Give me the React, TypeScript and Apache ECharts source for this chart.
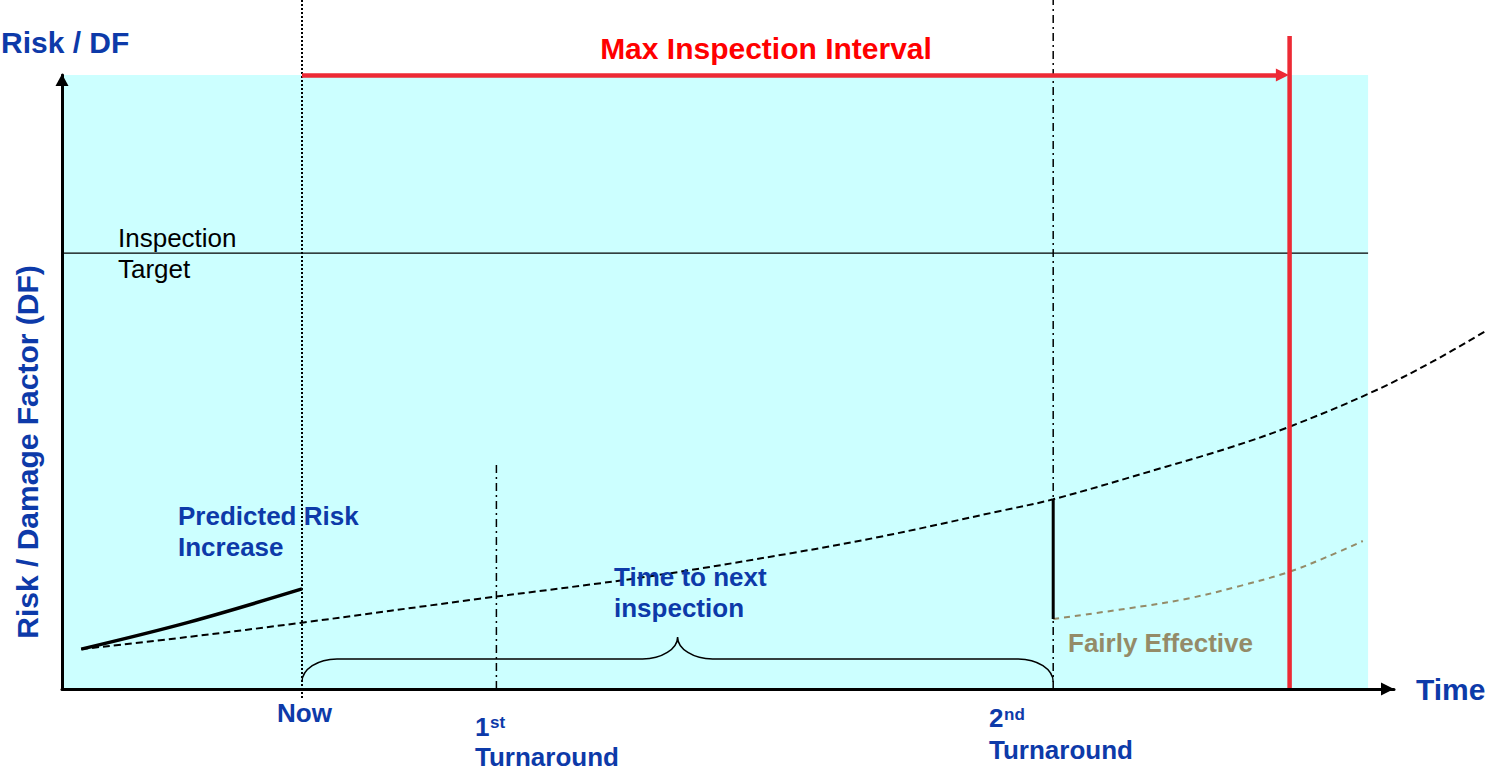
import React, { useEffect, useRef } from 'react';
import * as echarts from 'echarts';

const FONT = '"Liberation Sans", Arial, Helvetica, sans-serif';
const BLUE = '#0d3aa9';
const RED = '#ED2A35';
const KHAKI = '#948B68';

// ---- data (time in years relative to "Now", risk / DF on a 0–100 scale) ----
const eventNames = ['Now', '1st Turnaround', '2nd Turnaround', 'Max Inspection Interval'];
const eventTimes = [0, 8.1, 31.3, 41.15];

// past, observed risk increase (solid)
const pastTimes = [-9.2, -4.7, 0];
const pastRisk = [6.5, 10.9, 16.3];

// predicted risk without inspection (black dashed)
const riskTimes = [-9.2, -4.7, 0, 7.4, 14.4, 20.5, 24.1, 29.1, 31.3, 36.0, 38.8, 41.2, 44.5, 47.1, 49.4];
const riskValues = [6.5, 8.5, 10.8, 14.7, 18.3, 22.2, 24.8, 29.0, 30.9, 36.2, 39.5, 42.8, 48.2, 53.3, 58.5];

// risk after a "fairly effective" inspection at the 2nd turnaround (khaki dashed)
const effTimes = [31.3, 34.9, 37.0, 39.1, 41.15, 42.7, 44.2];
const effValues = [11.4, 13.4, 14.8, 16.8, 19.1, 21.5, 24.1];

const inspectionTarget = 71;
const windowTimes = [-10, 44.42];
const windowRisk = [0, 100];
const ta1LineTop = 36.5;
const maxLineTop = 106.35;
const markerRange = [-1.8, 112.2];
const braceLevels = [1.14, 4.89, 8.47];

const xRange = [-10, 45.5]; // visible time axis (ends at the arrow)
const plotXRange = [-10, 49.4]; // drawing range for the marks (same scale, runs to the page edge)
const yRange = [0, 100];

const lineBase = {
  type: 'line',
  symbol: 'none',
  silent: true,
  clip: false,
  animation: false,
  xAxisIndex: 1,
  yAxisIndex: 1,
};

const pairs = (xs: number[], ys: number[]) => xs.map((x, i) => [x, ys[i]]);

function txt(text: string, x: number, y: number, font: string, fill: string, align = 'left', extra: any = {}) {
  return {
    type: 'text',
    x,
    y,
    z: 100,
    silent: true,
    style: { text, font, fill, align, verticalAlign: 'middle' },
    ...extra,
  };
}

const hiddenAxis = {
  show: false,
  axisLine: { show: false },
  axisTick: { show: false },
  axisLabel: { show: false },
  splitLine: { show: false },
};

function buildOption() {
  const [now, ta1, ta2, maxT] = eventTimes;
  const b26 = `bold 26px ${FONT}`;
  const pxPerYear = 1332 / (xRange[1] - xRange[0]);
  return {
    animation: false,
    backgroundColor: '#ffffff',
    grid: [
      { left: 62, top: 75, width: 1332, height: 614, containLabel: false, outerBoundsMode: 'none' },
      {
        left: 62,
        top: 75,
        width: pxPerYear * (plotXRange[1] - plotXRange[0]),
        height: 614,
        containLabel: false,
        outerBoundsMode: 'none',
      },
    ],
    xAxis: [
      {
        type: 'value',
        gridIndex: 0,
        min: xRange[0],
        max: xRange[1],
        z: 10,
        name: 'Time',
        nameLocation: 'end',
        nameGap: 22,
        nameTextStyle: { fontSize: 30, fontWeight: 'bold', color: BLUE, fontFamily: FONT },
        axisLine: {
          show: true,
          onZero: false,
          symbol: ['none', 'triangle'],
          symbolSize: [13, 13],
          symbolOffset: [0, -6.5],
          lineStyle: { color: '#000', width: 3 },
        },
        axisTick: { show: false },
        axisLabel: { show: false },
        splitLine: { show: false },
      },
      { type: 'value', gridIndex: 1, min: plotXRange[0], max: plotXRange[1], ...hiddenAxis },
    ],
    yAxis: [
      {
        type: 'value',
        gridIndex: 0,
        min: yRange[0],
        max: yRange[1],
        z: 10,
        axisLine: {
          show: true,
          onZero: false,
          symbol: ['none', 'triangle'],
          symbolSize: [13, 12],
          symbolOffset: [0, -5],
          lineStyle: { color: '#000', width: 3 },
        },
        axisTick: { show: false },
        axisLabel: { show: false },
        splitLine: { show: false },
      },
      { type: 'value', gridIndex: 1, min: yRange[0], max: yRange[1], ...hiddenAxis },
    ],
    series: [
      {
        ...lineBase,
        name: 'planning window',
        z: 0,
        data: [[windowTimes[0], windowRisk[1]], [windowTimes[1], windowRisk[1]]],
        lineStyle: { width: 0, color: '#CCFFFF' },
        areaStyle: { color: '#CCFFFF', opacity: 1, origin: 'start' },
      },
      {
        ...lineBase,
        name: 'Inspection Target',
        z: 2,
        data: [[windowTimes[0], inspectionTarget], [windowTimes[1], inspectionTarget]],
        lineStyle: { color: '#000', width: 1.2 },
      },
      {
        ...lineBase,
        name: eventNames[0],
        z: 3,
        data: [[now, markerRange[1]], [now, markerRange[0]]],
        lineStyle: { color: '#000', width: 2, type: [2, 2] },
      },
      {
        ...lineBase,
        name: eventNames[1],
        z: 3,
        data: [[ta1, 0], [ta1, ta1LineTop]],
        lineStyle: { color: '#000', width: 1.5, type: [8, 4, 2, 4] },
      },
      {
        ...lineBase,
        name: eventNames[2],
        z: 3,
        data: [[ta2, 0], [ta2, markerRange[1]]],
        lineStyle: { color: '#000', width: 1.5, type: [8, 4, 2, 4] },
      },
      {
        ...lineBase,
        name: eventNames[3],
        z: 6,
        data: [[maxT, 0], [maxT, maxLineTop]],
        lineStyle: { color: RED, width: 4.5 },
        markLine: {
          silent: true,
          symbol: ['none', 'triangle'],
          symbolSize: [13, 13],
          label: { show: false },
          lineStyle: { color: RED, width: 4.5, type: 'solid' },
          data: [[{ coord: [now, yRange[1]] }, { coord: [maxT - 0.3, yRange[1]] }]],
        },
      },
      {
        ...lineBase,
        name: 'Predicted risk',
        z: 4,
        smooth: 0.35,
        data: pairs(riskTimes, riskValues),
        lineStyle: { color: '#000', width: 2, type: [7, 4] },
      },
      {
        ...lineBase,
        name: 'Predicted Risk Increase',
        z: 5,
        smooth: 0.35,
        data: pairs(pastTimes, pastRisk),
        lineStyle: { color: '#000', width: 3.5 },
      },
      {
        ...lineBase,
        name: 'Inspection credit',
        z: 5,
        data: [[ta2, riskValues[riskTimes.indexOf(ta2)]], [ta2, effValues[0]]],
        lineStyle: { color: '#000', width: 3 },
      },
      {
        ...lineBase,
        name: 'Fairly Effective',
        z: 4,
        smooth: 0.35,
        data: pairs(effTimes, effValues),
        lineStyle: { color: KHAKI, width: 2, type: [6, 5] },
      },
      {
        type: 'custom',
        name: 'Time to next inspection',
        coordinateSystem: 'cartesian2d',
        xAxisIndex: 1,
        yAxisIndex: 1,
        silent: true,
        clip: false,
        z: 4,
        encode: { x: [0, 1] },
        data: [[now, ta2]],
        renderItem: (params: any, api: any) => {
          const [lo, bar, tip] = braceLevels;
          const p0 = api.coord([api.value(0), lo]);
          const p1 = api.coord([api.value(1), lo]);
          const yh = api.coord([api.value(0), bar])[1];
          const yt = api.coord([api.value(0), tip])[1];
          const x0 = p0[0];
          const x1 = p1[0];
          const yb = p0[1];
          const xm = (x0 + x1) / 2;
          const rx = 35;
          const d =
            `M${x0} ${yb} C${x0} ${yb - 12.7} ${x0 + rx - 19.25} ${yh} ${x0 + rx} ${yh} ` +
            `L${xm - rx} ${yh} C${xm - 15.75} ${yh} ${xm} ${yt + 12} ${xm} ${yt} ` +
            `C${xm} ${yt + 12} ${xm + 15.75} ${yh} ${xm + rx} ${yh} ` +
            `L${x1 - rx} ${yh} C${x1 - 15.75} ${yh} ${x1} ${yb - 12.7} ${x1} ${yb}`;
          return {
            type: 'path',
            shape: { pathData: d },
            style: { fill: 'none', stroke: '#000', lineWidth: 1.5 },
          };
        },
      },
    ],
    graphic: [
      txt('Risk / DF', 1, 42.5, `bold 30px ${FONT}`, BLUE),
      txt('Max Inspection Interval', 766, 48, `bold 30px ${FONT}`, '#FF0000', 'center'),
      txt('Risk / Damage Factor (DF)', 27.5, 452, `bold 30px ${FONT}`, BLUE, 'center', { rotation: Math.PI / 2 }),
      txt('Inspection', 118, 238, `26px ${FONT}`, '#000'),
      txt('Target', 118, 269, `26px ${FONT}`, '#000'),
      txt('Predicted Risk', 178, 516, b26, BLUE),
      txt('Increase', 178, 547, b26, BLUE),
      txt('Time to next', 614, 577, b26, BLUE),
      txt('inspection', 614, 608, b26, BLUE),
      txt('Fairly Effective', 1068, 643, b26, KHAKI),
      txt('Now', 277, 713, b26, BLUE),
      txt('1', 475, 727, b26, BLUE),
      txt('st', 490, 722, `bold 17px ${FONT}`, BLUE),
      txt('Turnaround', 475, 757, b26, BLUE),
      txt('2', 989, 718, b26, BLUE),
      txt('nd', 1004, 714, `bold 17px ${FONT}`, BLUE),
      txt('Turnaround', 989, 750, b26, BLUE),
    ],
  };
}

export default function App() {
  const ref = useRef<HTMLDivElement>(null);
  useEffect(() => {
    if (!ref.current) return;
    const chart = echarts.init(ref.current, null, { renderer: 'svg' });
    chart.setOption(buildOption() as any);
    return () => chart.dispose();
  }, []);
  return (
    <div
      ref={ref}
      style={{ position: 'fixed', left: 0, top: 0, width: 1487, height: 772, background: '#fff' }}
    />
  );
}
